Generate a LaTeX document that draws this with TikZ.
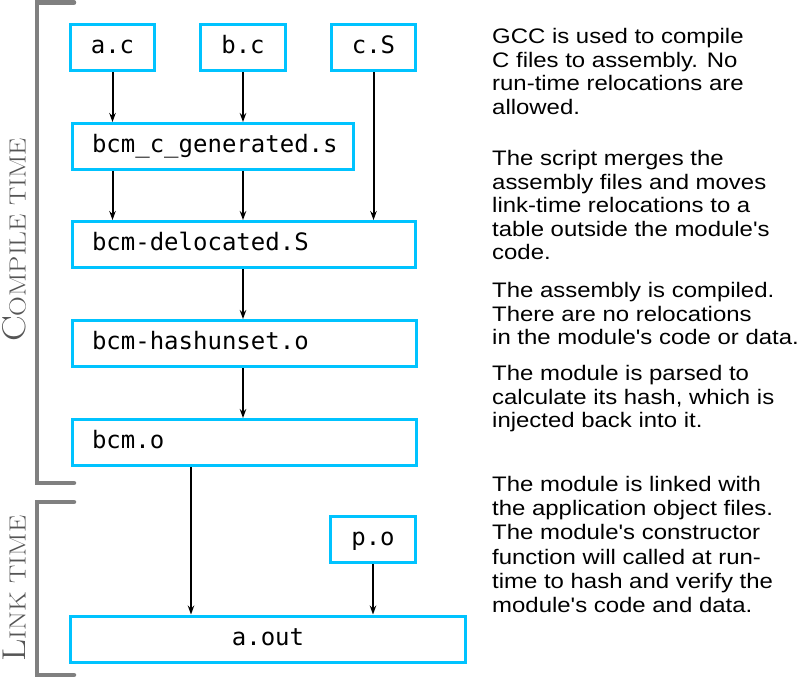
\documentclass[tikz,border=0pt]{standalone}
\usepackage{fontspec}
\newfontfamily\notefont{Liberation Sans}[FakeStretch=1.14]
\setmonofont{DejaVu Sans Mono}
\newfontfamily\lmserif{Latin Modern Roman}[FakeStretch=1.17]
\usetikzlibrary{arrows.meta}
\definecolor{boxcyan}{RGB}{0,195,255}
\definecolor{brackgray}{RGB}{128,128,128}
\definecolor{labgray}{RGB}{85,85,85}
\newcommand\ap{'}
\newcommand\myBigCap[1]{{\fontsize{33}{33}\selectfont #1}}
\newcommand\mySmallCap[1]{{\fontsize{23.4}{23.4}\selectfont #1}}
\begin{document}
\begin{tikzpicture}[x=1pt,y=-1pt,
  box/.style={draw=boxcyan, line width=3pt, minimum height=46pt, inner sep=0pt,
    font=\fontsize{24}{24}\selectfont\ttfamily, text height=18pt, text depth=6pt},
  wide/.style={box, anchor=west, align=left, inner xsep=20pt},
  arr/.style={line width=2pt, -{Stealth[length=9pt,width=6.5pt]}},
  brack/.style={draw=brackgray, line width=4.5pt, line cap=round, line join=miter},
  phase/.style={rotate=90, anchor=base, text=labgray, font=\lmserif, inner sep=0pt},
  note/.style={anchor=north west, align=left, inner sep=0pt,
    font=\notefont\fontsize{21}{23.6}\selectfont}]
\fill[white] (0,0) rectangle (800,678);
\useasboundingbox (0,0) rectangle (800,678);

% brackets
\draw[brack] (74,2.5) -- (37,2.5) -- (37,483) -- (74,483);
\draw[brack] (74,502) -- (37,502) -- (37,675) -- (74,675);
\node[phase] (ct) at (25.5,240) {\myBigCap{C}\mySmallCap{OMPILE TIME}};
\node[phase] (lt) at (25.5,588.5) {\myBigCap{L}\mySmallCap{INK TIME}};

% boxes
\node[box, minimum width=84pt] (ac) at (112.5,47.5) {a.c};
\node[box, minimum width=85pt] (bc) at (243,47.5) {b.c};
\node[box, minimum width=84pt] (cS) at (373.5,47.5) {c.S};
\node[wide, minimum width=281pt, text width=241pt] (gen) at (70.5,146.5) {bcm\_c\_generated.s};
\node[wide, minimum width=343pt, text width=303pt] (del) at (70.5,244.5) {bcm-delocated.S};
\node[wide, minimum width=344pt, text width=304pt] (hash) at (70.5,343.5) {bcm-hashunset.o};
\node[wide, minimum width=344pt, text width=304pt] (bcmo) at (70.5,442.5) {bcm.o};
\node[box, minimum width=85pt] (po) at (373,539.5) {p.o};
\node[box, minimum width=395pt] (aout) at (268,639) {a.out};
\coordinate (lk) at (191,0);

% arrows
\draw[arr] (ac.south) -- (ac.south |- gen.north);
\draw[arr] (bc.south) -- (bc.south |- gen.north);
\draw[arr] (gen.south -| ac) -- (del.north -| ac);
\draw[arr] (gen.south -| bc) -- (del.north -| bc);
\draw[arr] (cS.south) -- (cS.south |- del.north);
\draw[arr] (del.south -| bc) -- (hash.north -| bc);
\draw[arr] (hash.south -| bc) -- (bcmo.north -| bc);
\draw[arr] (bcmo.south -| lk) -- (aout.north -| lk);
\draw[arr] (po.south) -- (po.south |- aout.north);

% notes
\node[note] (n1) at (492,28) {GCC is used to compile\\C files to assembly. No\\run-time relocations are\\allowed.};
\node[note] (n2) at (492,150) {The script merges the\\assembly files and moves\\link-time relocations to a\\table outside the module\ap s\\code.};
\node[note] (n3) at (492,282) {The assembly is compiled.\\There are no relocations\\in the module\ap s code or data.};
\node[note] (n4) at (492,365) {The module is parsed to\\calculate its hash, which is\\injected back into it.};
\node[note, font=\notefont\fontsize{21}{24.2}\selectfont] (n5) at (492,476) {The module is linked with\\the application object files.\\The module\ap s constructor\\function will called at run-\\time to hash and verify the\\module\ap s code and data.};
\end{tikzpicture}
\end{document}
